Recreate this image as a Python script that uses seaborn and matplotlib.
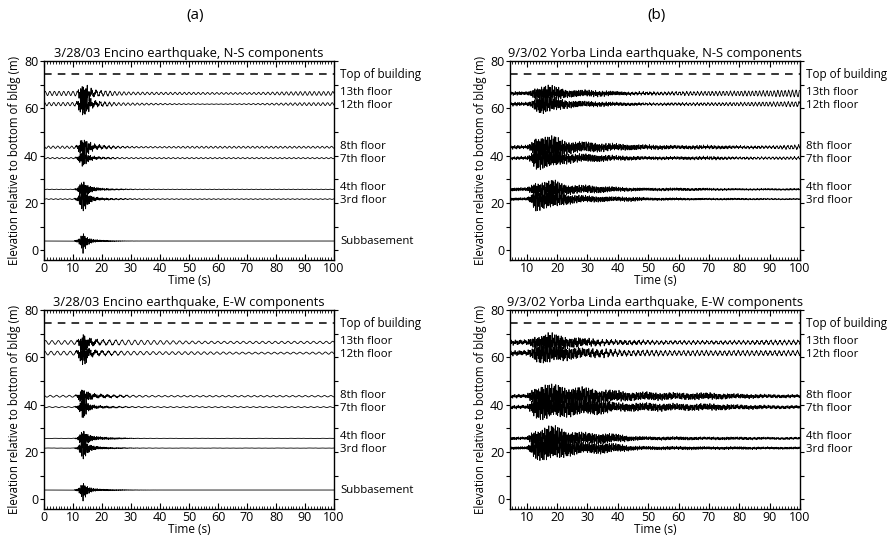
import numpy as np
import pandas as pd
import matplotlib
matplotlib.use("Agg")
import matplotlib.pyplot as plt
from matplotlib.ticker import MultipleLocator
import seaborn as sns

# 各階の基準高さ (m) と建物頂部
floors = ["13th floor", "12th floor", "8th floor", "7th floor", "4th floor", "3rd floor", "Subbasement"]
floor_elev = [66.3, 61.8, 43.6, 39.0, 25.8, 21.7, 4.0]
top_of_building = 74.5

# 包絡線を読み取った時刻 (s)
knots_encino = [0, 10, 11.5, 12.5, 13.5, 14.5, 15.5, 17, 20, 25, 30, 40, 50, 60, 70, 80, 90, 100]
knots_yorba = [4.5, 10, 11.5, 13, 15, 17, 19, 21, 23, 26, 30, 35, 40, 45, 50, 60, 70, 80, 90, 100]

# Encino N-S: 短周期成分 / 建物の長周期揺れの振幅 (m 単位の見かけ)
encino_ns_hf = {
    "13th floor": [0, 0, 0.3, 2.5, 3.5, 3.5, 2.0, 0.8, 0.3, 0.1, 0, 0, 0, 0, 0, 0, 0, 0],
    "12th floor": [0, 0, 0.5, 3.0, 4.0, 3.5, 2.0, 1.0, 0.4, 0.1, 0, 0, 0, 0, 0, 0, 0, 0],
    "8th floor": [0, 0, 0.5, 2.5, 4.5, 3.5, 2.0, 1.0, 0.5, 0.2, 0.1, 0, 0, 0, 0, 0, 0, 0],
    "7th floor": [0, 0, 0.4, 2.0, 3.0, 2.0, 1.2, 0.6, 0.3, 0.1, 0, 0, 0, 0, 0, 0, 0, 0],
    "4th floor": [0, 0, 0.5, 2.5, 4.5, 2.5, 1.5, 0.8, 0.4, 0.2, 0.1, 0, 0, 0, 0, 0, 0, 0],
    "3rd floor": [0, 0, 0.6, 2.5, 4.5, 3.0, 1.8, 0.8, 0.4, 0.2, 0.1, 0, 0, 0, 0, 0, 0, 0],
    "Subbasement": [0, 0, 0.5, 1.5, 4.5, 2.0, 1.2, 0.6, 0.3, 0.15, 0.05, 0, 0, 0, 0, 0, 0, 0],
}
encino_ns_lp = {
    "13th floor": [0.9, 0.9, 1.0, 1.0, 1.0, 1.0, 1.0, 1.0, 1.0, 0.8, 0.6, 0.5, 0.5, 0.4, 0.4, 0.6, 0.8, 0.8],
    "12th floor": [0.7, 0.7, 0.8, 0.8, 0.8, 0.8, 0.8, 0.8, 0.8, 0.6, 0.5, 0.3, 0.15, 0.1, 0.2, 0.4, 0.6, 0.6],
    "8th floor": [0.5, 0.5, 0.5, 0.5, 0.5, 0.5, 0.5, 0.5, 0.5, 0.4, 0.3, 0.3, 0.4, 0.4, 0.4, 0.4, 0.4, 0.4],
    "7th floor": [0.25] * 18,
    "4th floor": [0.1] * 18,
    "3rd floor": [0.15] * 18,
    "Subbasement": [0] * 18,
}

# Encino E-W
encino_ew_hf = {
    "13th floor": [0, 0, 0.3, 2.0, 4.0, 2.5, 1.5, 0.8, 0.4, 0.2, 0, 0, 0, 0, 0, 0, 0, 0],
    "12th floor": [0, 0, 0.5, 2.5, 5.0, 3.0, 1.5, 0.8, 0.4, 0.2, 0, 0, 0, 0, 0, 0, 0, 0],
    "8th floor": [0, 0, 0.4, 2.0, 4.0, 2.5, 1.5, 0.8, 0.5, 0.3, 0.1, 0, 0, 0, 0, 0, 0, 0],
    "7th floor": [0, 0, 0.4, 2.0, 4.5, 2.5, 1.3, 0.7, 0.4, 0.2, 0.1, 0, 0, 0, 0, 0, 0, 0],
    "4th floor": [0, 0, 0.3, 2.0, 4.5, 2.5, 1.5, 0.8, 0.5, 0.3, 0.1, 0, 0, 0, 0, 0, 0, 0],
    "3rd floor": [0, 0, 0.4, 2.0, 4.0, 2.5, 1.5, 0.8, 0.4, 0.2, 0.1, 0, 0, 0, 0, 0, 0, 0],
    "Subbasement": [0, 0, 0.4, 1.5, 4.0, 2.0, 1.2, 0.6, 0.3, 0.2, 0.1, 0, 0, 0, 0, 0, 0, 0],
}
encino_ew_lp = {
    "13th floor": [0.8, 0.8, 0.8, 0.8, 0.8, 0.8, 0.8, 0.8, 0.9, 1.0, 1.0, 0.8, 0.6, 0.5, 0.5, 0.5, 0.5, 0.5],
    "12th floor": [0.8, 0.8, 0.8, 0.8, 0.8, 0.8, 0.8, 0.8, 0.8, 0.8, 0.8, 0.6, 0.6, 0.5, 0.4, 0.4, 0.4, 0.5],
    "8th floor": [0.4, 0.4, 0.4, 0.4, 0.4, 0.4, 0.4, 0.4, 0.4, 0.4, 0.4, 0.3, 0.3, 0.3, 0.3, 0.3, 0.3, 0.3],
    "7th floor": [0.2] * 18,
    "4th floor": [0.05] * 18,
    "3rd floor": [0.05] * 18,
    "Subbasement": [0] * 18,
}

# Yorba Linda N-S
yorba_ns_hf = {
    "13th floor": [0.6, 0.6, 1.0, 2.5, 3.0, 3.0, 2.5, 2.0, 1.5, 1.3, 1.2, 1.0, 0.7, 0.5, 0.4, 0.3, 0.2, 0.2, 0.2, 0.2],
    "12th floor": [0.6, 0.6, 1.0, 2.5, 3.5, 3.0, 3.0, 2.0, 1.5, 1.2, 1.0, 0.8, 0.6, 0.5, 0.3, 0.3, 0.2, 0.2, 0.2, 0.2],
    "8th floor": [0.6, 0.6, 1.5, 4.5, 4.5, 4.0, 4.0, 3.0, 2.5, 2.0, 2.0, 1.5, 1.2, 1.0, 0.8, 0.6, 0.6, 0.4, 0.3, 0.3],
    "7th floor": [0.5, 0.5, 1.5, 4.0, 4.0, 3.5, 4.0, 2.5, 2.0, 1.5, 1.5, 1.2, 0.8, 0.7, 0.5, 0.5, 0.5, 0.3, 0.2, 0.2],
    "4th floor": [0.6, 0.6, 1.5, 3.0, 3.0, 3.0, 3.5, 2.5, 2.0, 1.5, 1.5, 1.2, 0.8, 0.6, 0.5, 0.5, 0.4, 0.3, 0.3, 0.3],
    "3rd floor": [0.5, 0.5, 1.5, 4.5, 3.5, 3.5, 4.0, 2.5, 2.0, 1.5, 1.2, 1.0, 0.8, 0.8, 0.5, 0.4, 0.3, 0.3, 0.2, 0.2],
}
yorba_ns_lp = {
    "13th floor": [0.2, 0.2, 0.2, 0.2, 0.2, 0.2, 0.2, 0.2, 0.2, 0.2, 0.2, 0.2, 0.2, 0.3, 0.4, 0.6, 0.8, 0.9, 1.1, 1.4],
    "12th floor": [0.2, 0.2, 0.2, 0.2, 0.2, 0.2, 0.2, 0.2, 0.2, 0.2, 0.2, 0.2, 0.2, 0.2, 0.3, 0.4, 0.5, 0.6, 0.8, 1.0],
    "8th floor": [0.2, 0.2, 0.2, 0.2, 0.2, 0.2, 0.2, 0.2, 0.2, 0.2, 0.2, 0.2, 0.2, 0.2, 0.2, 0.2, 0.3, 0.3, 0.4, 0.8],
    "7th floor": [0.2, 0.2, 0.2, 0.2, 0.2, 0.2, 0.2, 0.2, 0.2, 0.2, 0.2, 0.2, 0.2, 0.2, 0.2, 0.2, 0.3, 0.3, 0.4, 0.5],
    "4th floor": [0.1] * 20,
    "3rd floor": [0.1] * 20,
}

# Yorba Linda E-W
yorba_ew_hf = {
    "13th floor": [0.8, 0.8, 1.5, 2.5, 3.0, 3.5, 3.0, 2.5, 2.0, 1.8, 1.2, 0.8, 0.6, 0.5, 0.4, 0.3, 0.3, 0.3, 0.3, 0.3],
    "12th floor": [0.8, 0.8, 1.5, 3.0, 3.5, 4.0, 3.5, 3.0, 2.5, 2.0, 1.5, 1.0, 0.7, 0.5, 0.4, 0.3, 0.3, 0.3, 0.3, 0.3],
    "8th floor": [0.6, 0.6, 2.0, 4.0, 4.5, 4.5, 4.0, 4.0, 3.5, 3.5, 3.0, 2.5, 2.0, 1.5, 1.5, 1.2, 1.2, 0.8, 0.6, 0.5],
    "7th floor": [0.6, 0.6, 2.0, 4.0, 4.5, 4.5, 4.0, 4.0, 3.5, 3.0, 3.0, 2.5, 1.5, 1.5, 1.5, 1.2, 1.2, 0.8, 0.6, 0.5],
    "4th floor": [0.5, 0.5, 2.0, 3.5, 4.0, 4.5, 4.5, 4.0, 3.0, 2.5, 2.0, 2.0, 1.5, 0.8, 0.6, 0.6, 0.5, 0.5, 0.4, 0.4],
    "3rd floor": [0.5, 0.5, 2.0, 4.0, 4.5, 4.5, 4.5, 4.0, 3.0, 2.5, 2.0, 2.0, 1.5, 0.8, 0.6, 0.6, 0.5, 0.5, 0.4, 0.4],
}
yorba_ew_lp = {
    "13th floor": [0.3, 0.3, 0.3, 0.3, 0.3, 0.3, 0.3, 0.3, 0.3, 0.4, 0.6, 0.6, 0.6, 0.6, 0.6, 0.6, 0.6, 0.6, 0.8, 0.8],
    "12th floor": [0.3, 0.3, 0.3, 0.3, 0.3, 0.3, 0.3, 0.3, 0.3, 0.4, 0.6, 0.9, 0.9, 0.9, 0.9, 0.9, 0.9, 0.9, 0.9, 0.9],
    "8th floor": [0.2] * 20,
    "7th floor": [0.2] * 20,
    "4th floor": [0.1] * 20,
    "3rd floor": [0.1] * 20,
}

# 各パネルの設定
panels = [
    ("3/28/03 Encino earthquake, N-S components", knots_encino, encino_ns_hf, encino_ns_lp, 1.6),
    ("9/3/02 Yorba Linda earthquake, N-S components", knots_yorba, yorba_ns_hf, yorba_ns_lp, 1.2),
    ("3/28/03 Encino earthquake, E-W components", knots_encino, encino_ew_hf, encino_ew_lp, 2.2),
    ("9/3/02 Yorba Linda earthquake, E-W components", knots_yorba, yorba_ew_hf, yorba_ew_lp, 1.5),
]

# ラベルの上下の微調整 (近接するペアを少し離す)
label_nudge = {"13th floor": 0.5, "12th floor": -0.5, "8th floor": 0.5, "7th floor": -0.5,
               "4th floor": 0.6, "3rd floor": -0.6, "Subbasement": 0}


def build_traces(knots, hf_amp, lp_amp, period):
    """包絡線から記録波形の見た目を組み立てる"""
    t = np.arange(knots[0], knots[-1] + 0.005, 0.01)
    rows = []
    for i, name in enumerate(hf_amp):
        base = floor_elev[floors.index(name)]
        ph = 0.9 * i
        hf = (np.sin(2 * np.pi * 2.3 * t + ph)
              + 0.6 * np.sin(2 * np.pi * 3.7 * t + 1.3 + 2 * ph)
              + 0.4 * np.sin(2 * np.pi * 6.1 * t + 0.4 + 3 * ph)) / 1.6
        lp = np.sin(2 * np.pi * t / period + ph)
        y = base + np.interp(t, knots, hf_amp[name]) * hf + np.interp(t, knots, lp_amp[name]) * lp
        rows.append(pd.DataFrame({"t": t, "y": y, "trace": name}))
    return pd.concat(rows, ignore_index=True)


sns.set_style("ticks")
plt.rcParams["font.family"] = ["Open Sans", "DejaVu Sans"]
plt.rcParams["font.size"] = 8
plt.rcParams["text.color"] = "black"
plt.rcParams["axes.labelcolor"] = "black"
plt.rcParams["xtick.color"] = "black"
plt.rcParams["ytick.color"] = "black"

fig = plt.figure(figsize=(8.91, 5.41), dpi=100)
W, H = 891, 541
positions = [(44, 61), (510, 61), (44, 310), (510, 310)]

for (title, knots, hf_amp, lp_amp, period), (px, py) in zip(panels, positions):
    ax = fig.add_axes([px / W, 1 - (py + 198.5) / H, 290 / W, 198.5 / H])
    df = build_traces(knots, hf_amp, lp_amp, period)
    sns.lineplot(data=df, x="t", y="y", units="trace", estimator=None, sort=False,
                 color="black", lw=0.6, ax=ax, legend=False)
    ax.axhline(top_of_building, color="black", lw=1.1, linestyle=(0, (5, 4)))

    ax.set_xlim(knots[0], knots[-1])
    ax.set_ylim(-3.8, 80)
    ax.set_xticks(np.arange(10 if knots[0] > 0 else 0, 101, 10))
    ax.set_yticks([0, 20, 40, 60, 80])
    ax.xaxis.set_minor_locator(MultipleLocator(1))
    ax.yaxis.set_minor_locator(MultipleLocator(10))
    ax.tick_params(axis="x", which="major", direction="in", length=4, width=0.8,
                   top=True, bottom=True, pad=2, labelsize=9)
    ax.tick_params(axis="x", which="minor", direction="in", length=2, width=0.6,
                   top=True, bottom=True)
    ax.tick_params(axis="y", which="both", direction="out", length=3, width=0.8,
                   left=True, right=True, pad=1, labelsize=9)
    for s in ax.spines.values():
        s.set_linewidth(1.0)
        s.set_color("black")

    ax.set_title(title, fontsize=9.3, pad=3)
    ax.set_xlabel("Time (s)", fontsize=8.5, labelpad=-1)
    ax.set_ylabel("Elevation relative to bottom of bldg (m)", fontsize=8.3, labelpad=2)

    # 右側の階ラベル
    lab_tr = ax.get_yaxis_transform()
    ax.text(1.022, top_of_building, "Top of building", transform=lab_tr, va="center", fontsize=8.4)
    for name in hf_amp:
        ax.text(1.022, floor_elev[floors.index(name)] + label_nudge[name], name,
                transform=lab_tr, va="center", fontsize=8.2, linespacing=1.0)

fig.text(195 / W, 1 - 15 / H, "(a)", ha="center", va="center", fontsize=11)
fig.text(657 / W, 1 - 15 / H, "(b)", ha="center", va="center", fontsize=11)

fig.savefig("out.png", dpi=100)
